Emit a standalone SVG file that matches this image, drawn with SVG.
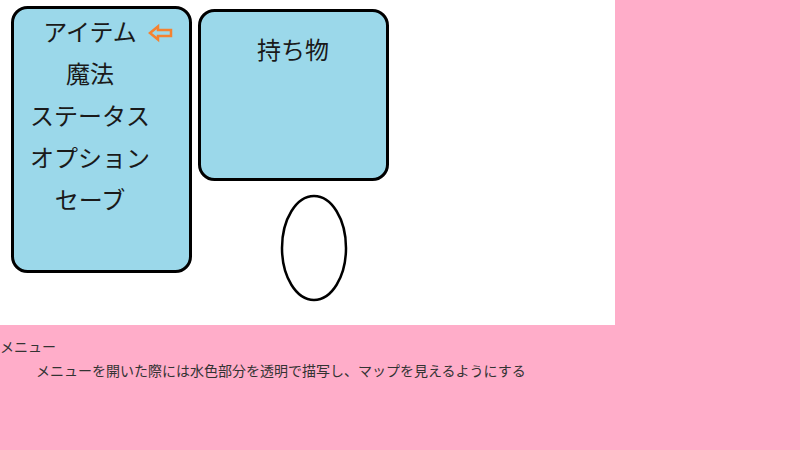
<svg xmlns="http://www.w3.org/2000/svg" width="800" height="450" viewBox="0 0 800 450">
<style>
.panel{fill:#9BD8EA;stroke:#000;stroke-width:3}
.t{font-family:"Noto Sans CJK JP",sans-serif;font-size:24px;fill:#1a1a1a}
.s{font-family:"Noto Sans CJK JP",sans-serif;font-size:14px;fill:#333}
</style>
<rect x="0" y="0" width="800" height="450" fill="#FFADC9"/>
<rect x="0" y="0" width="615" height="325" fill="#fff"/>
<g id="menu">
<rect class="panel" x="12.5" y="7.5" width="178" height="264" rx="15"/>
<text class="t" x="90" y="41" text-anchor="middle">アイテム</text>
<text class="t" x="90" y="83" text-anchor="middle">魔法</text>
<text class="t" x="90" y="125" text-anchor="middle">ステータス</text>
<text class="t" x="90" y="167" text-anchor="middle">オプション</text>
<text class="t" x="90" y="209" text-anchor="middle">セーブ</text>
</g>
<g id="cursor">
<path d="M150,33 L158,26.5 L158,30 L171,30 L171,36 L158,36 L158,39.5 Z" fill="none" stroke="#F58230" stroke-width="2.5" stroke-linejoin="miter"/>
</g>
<g id="items">
<rect class="panel" x="199.5" y="10.5" width="188" height="169" rx="15"/>
<text class="t" x="293" y="59" text-anchor="middle">持ち物</text>
</g>
<g id="player">
<ellipse cx="314" cy="248" rx="32" ry="52" fill="#fff" stroke="#000" stroke-width="2.5"/>
</g>
<g id="note">
<text class="s" x="0" y="352">メニュー</text>
<text class="s" x="36" y="376">メニューを開いた際には水色部分を透明で描写し、マップを見えるようにする</text>
</g>
<g id="connectors"></g>
</svg>
